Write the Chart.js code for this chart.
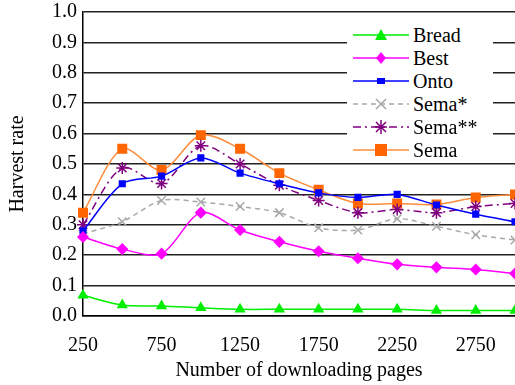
<!DOCTYPE html>
<html>
<head>
<meta charset="utf-8">
<script src="https://cdn.jsdelivr.net/npm/chart.js@4"></script>
<style>
  html, body { margin: 0; padding: 0; background: #fff; }
  #wrap { position: relative; width: 515px; height: 385px; }
  #legend {
    position: absolute; left: 347px; top: 22px; width: 146px; height: 138px;
    background: #fff; font-family: "Liberation Serif", "Times New Roman", Times, serif; font-size: 20px; color: #000;
  }
  .leg-row { position: absolute; left: 0; height: 22px; display: flex; align-items: center; }
  .leg-row svg { width: 62px; height: 22px; }
  .leg-row span { margin-left: 4px; }
</style>
</head>
<body>
<div id="wrap">
  <canvas id="c" width="515" height="385"></canvas>
  <div id="legend"></div>
</div>
<script>
const pages = ['250', '500', '750', '1000', '1250', '1500', '1750', '2000', '2250', '2500', '2750', '3000'];
const bread = [0.068, 0.036, 0.033, 0.027, 0.022, 0.022, 0.022, 0.022, 0.022, 0.018, 0.018, 0.018];
const best = [0.26, 0.22, 0.205, 0.34, 0.283, 0.244, 0.213, 0.19, 0.17, 0.16, 0.153, 0.14];
const onto = [0.28, 0.435, 0.46, 0.52, 0.47, 0.435, 0.405, 0.39, 0.40, 0.365, 0.335, 0.31];
const semaStar = [0.27, 0.31, 0.38, 0.375, 0.36, 0.34, 0.29, 0.283, 0.32, 0.295, 0.267, 0.25];
const semaStar2 = [0.30, 0.487, 0.436, 0.56, 0.50, 0.43, 0.38, 0.34, 0.35, 0.34, 0.36, 0.37];
const sema = [0.34, 0.55, 0.48, 0.595, 0.55, 0.47, 0.415, 0.37, 0.37, 0.367, 0.39, 0.40];
const yTicks = [0, 0.1, 0.2, 0.3, 0.4, 0.5, 0.6, 0.7, 0.8, 0.9, 1.0];

const series = [
  { label: 'Bread', data: bread, color: '#00EE00', fill: '#00EE00', style: 'triangle', r: 5, dash: [] },
  { label: 'Best', data: best, color: '#FF00FF', fill: '#FF00FF', style: 'rectRot', r: 5, dash: [] },
  { label: 'Onto', data: onto, color: '#0000FF', fill: '#0000FF', style: 'rect', r: 4, dash: [] },
  { label: 'Sema*', data: semaStar, color: '#A8A8A8', fill: '#A8A8A8', style: 'crossRot', r: 6, dash: [5, 4] },
  { label: 'Sema**', data: semaStar2, color: '#800080', fill: '#800080', style: 'star', r: 6, dash: [8, 4, 2, 4] },
  { label: 'Sema', data: sema, color: '#FF8C3A', fill: '#FF6600', style: 'rect', r: 6, dash: [] },
];

const family = '"Liberation Serif", "Times New Roman", Times, serif';
const font = { family, size: 20 };

new Chart(document.getElementById('c'), {
  type: 'line',
  data: {
    labels: pages,
    datasets: series.map(s => ({
      label: s.label,
      data: s.data,
      borderColor: s.color,
      backgroundColor: s.fill,
      pointBackgroundColor: s.fill,
      pointBorderColor: s.fill,
      pointStyle: s.style,
      pointRadius: s.r,
      pointBorderWidth: 1.5,
      borderWidth: 1.5,
      borderDash: s.dash,
      tension: 0.3,
    })),
  },
  options: {
    responsive: false,
    animation: false,
    layout: { autoPadding: false, padding: { top: 12, right: 0, left: 0, bottom: 0 } },
    plugins: { legend: { display: false }, tooltip: { enabled: false } },
    scales: {
      x: {
        offset: false,
        grid: { display: false },
        border: { color: '#000', width: 1.5 },
        ticks: {
          color: '#000', font, autoSkip: false, maxRotation: 0, padding: 10,
          callback: (v, i) => (i % 2 === 0 ? pages[i] : ''),
        },
        title: { display: true, text: 'Number of downloading pages', color: '#000', font, padding: { top: 6, bottom: 2 } },
        afterFit: s => { s.height = 69; s.paddingLeft = 0; s.paddingRight = 0; },
      },
      y: {
        min: 0, max: 1,
        afterBuildTicks: s => { s.ticks = yTicks.map(v => ({ value: v })); },
        grid: { color: '#222', lineWidth: 1.5, drawTicks: false },
        border: { color: '#000', width: 1.5 },
        ticks: { color: '#000', font, padding: 6, callback: v => Number(v).toFixed(1) },
        title: { display: true, text: 'Harvest rate', color: '#000', font, padding: { top: 6, bottom: 4 } },
        afterFit: s => { s.width = 83; s.paddingTop = 0; s.paddingBottom = 0; },
      },
    },
  },
});

// legend (html, sits over the chart area like the original)
const legendEl = document.getElementById('legend');
function markerSvg(s) {
  const c = s.fill, x = 34, y = 11;
  switch (s.style) {
    case 'triangle': return `<polygon points="${x},${y - 6} ${x - 6},${y + 5} ${x + 6},${y + 5}" fill="${c}"/>`;
    case 'rectRot': return `<polygon points="${x},${y - 6} ${x + 5},${y} ${x},${y + 6} ${x - 5},${y}" fill="${c}"/>`;
    case 'crossRot': return `<path d="M${x - 5},${y - 5}L${x + 5},${y + 5}M${x + 5},${y - 5}L${x - 5},${y + 5}" stroke="${c}" stroke-width="1.5"/>`;
    case 'star': return `<path d="M${x - 5},${y - 5}L${x + 5},${y + 5}M${x + 5},${y - 5}L${x - 5},${y + 5}M${x},${y - 7}L${x},${y + 7}M${x - 6},${y}L${x + 6},${y}" stroke="${c}" stroke-width="1.5"/>`;
    default: return `<rect x="${x - s.r}" y="${y - s.r + (s.r < 5 ? 1 : 0)}" width="${s.r * 2}" height="${s.r * 2 - (s.r < 5 ? 2 : 0)}" fill="${c}"/>`;
  }
}
legendEl.innerHTML = series.map((s, i) =>
  `<div class="leg-row" style="top:${i * 23 + 2}px"><svg viewBox="0 0 62 22">` +
  `<line x1="6" y1="11" x2="62" y2="11" stroke="${s.color}" stroke-width="1.5" stroke-dasharray="${s.dash.join(' ')}"/>` +
  markerSvg(s) + `</svg><span>${s.label}</span></div>`
).join('');
</script>
</body>
</html>
